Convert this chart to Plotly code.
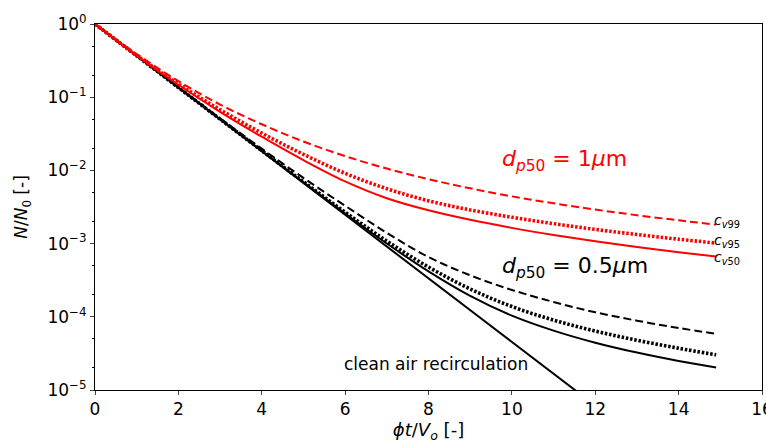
import plotly.graph_objects as go

t = [0, 1, 2, 3, 4, 5, 6, 7, 8, 9, 10, 11, 12, 13, 14, 14.9]

# log10(N/N0)
red_cv99 = [0, -0.41, -0.78, -1.10, -1.37, -1.605, -1.805, -1.975, -2.12, -2.245, -2.355, -2.45, -2.535, -2.612, -2.682, -2.741]
red_cv95 = [0, -0.43, -0.82, -1.17, -1.49, -1.78, -2.04, -2.25, -2.415, -2.54, -2.64, -2.728, -2.806, -2.876, -2.94, -2.993]
red_cv50 = [0, -0.43, -0.83, -1.20, -1.54, -1.86, -2.15, -2.38, -2.545, -2.675, -2.785, -2.882, -2.969, -3.047, -3.118, -3.177]
blk_cv99 = [0, -0.433, -0.863, -1.288, -1.703, -2.103, -2.483, -2.853, -3.183, -3.433, -3.633, -3.798, -3.938, -4.053, -4.153, -4.233]
blk_cv95 = [0, -0.434, -0.868, -1.300, -1.730, -2.155, -2.570, -2.965, -3.320, -3.620, -3.860, -4.045, -4.195, -4.320, -4.430, -4.520]
blk_cv50 = [0, -0.434, -0.868, -1.301, -1.734, -2.164, -2.589, -2.999, -3.379, -3.714, -3.984, -4.189, -4.354, -4.489, -4.604, -4.694]

t_clean = [0, 12]
clean = [1.0, 6.14e-6]

y_tickvals = [1, 1e-1, 1e-2, 1e-3, 1e-4, 1e-5]
y_ticktext = ["10<sup>0</sup>", "10<sup>\u22121</sup>", "10<sup>\u22122</sup>", "10<sup>\u22123</sup>",
              "10<sup>\u22124</sup>", "10<sup>\u22125</sup>"]
x_tickvals = [0, 2, 4, 6, 8, 10, 12, 14, 16]

RED = "#ff0000"
BLK = "#000000"

def lin(v):
    return [10 ** x for x in v]

fig = go.Figure()
fig.add_trace(go.Scatter(x=t_clean, y=clean, mode="lines", line=dict(color=BLK, width=2),
                         showlegend=False, hoverinfo="skip"))
specs = [
    (blk_cv99, BLK, "8px,4px", 2),
    (blk_cv95, BLK, "2.5px,1.8px", 3.6),
    (blk_cv50, BLK, "solid", 2),
    (red_cv99, RED, "8px,4px", 2),
    (red_cv95, RED, "2.5px,1.8px", 3.6),
    (red_cv50, RED, "solid", 2),
]
for vals, col, dash, w in specs:
    fig.add_trace(go.Scatter(x=t, y=lin(vals), mode="lines",
                             line=dict(color=col, dash=dash, width=w, shape="spline", smoothing=1.0),
                             showlegend=False, hoverinfo="skip"))

font = "DejaVu Sans"
ann = [
    dict(x=9.71, y=-1.86, text="<i>d</i><sub><i>p</i>50</sub> = 1<i>\u03bc</i>m", color=RED, size=22),
    dict(x=9.71, y=-3.32, text="<i>d</i><sub><i>p</i>50</sub> = 0.5<i>\u03bc</i>m", color=BLK, size=22),
    dict(x=14.8, y=-2.69, text="<i>c</i><sub><i>v</i>99</sub>", color=BLK, size=14),
    dict(x=14.8, y=-2.96, text="<i>c</i><sub><i>v</i>95</sub>", color=BLK, size=14),
    dict(x=14.8, y=-3.19, text="<i>c</i><sub><i>v</i>50</sub>", color=BLK, size=14),
    dict(x=5.92, y=-4.64, text="clean air recirculation", color=BLK, size=17),
]
for a in ann:
    fig.add_annotation(x=a["x"], y=a["y"], text=a["text"], showarrow=False, xanchor="left", yanchor="middle",
                       font=dict(color=a["color"], size=a["size"], family=font))

fig.update_layout(
    width=766, height=443,
    margin=dict(l=95, r=4, t=24, b=53),
    plot_bgcolor="white", paper_bgcolor="white",
    font=dict(family=font, size=17, color="black"),
    xaxis=dict(range=[0, 16], tickvals=x_tickvals, ticks="outside", ticklen=4, tickwidth=1,
               automargin=False, ticklabeloverflow="allow",
               showline=True, linecolor="black", linewidth=1, mirror=True, showgrid=False, zeroline=False,
               title=dict(text="<i>\u03d5t</i>/<i>V<sub>o</sub></i> [-]", font=dict(size=18))),
    yaxis=dict(type="log", range=[-5, 0], tickvals=y_tickvals, ticktext=y_ticktext, ticks="outside",
               ticklen=4, tickwidth=1, showline=True, linecolor="black", linewidth=1, mirror=True,
               automargin=False, ticklabeloverflow="allow",
               showgrid=False, zeroline=False,
               minor=dict(ticks="outside", ticklen=2, tickcolor="black", showgrid=False),
               title=dict(text="<i>N</i>/<i>N</i><sub>0</sub> [-]", font=dict(size=17))),
)
fig.write_html("out.html", config={"displayModeBar": False},
               post_script="document.body.style.margin='0';document.body.style.padding='0';")
